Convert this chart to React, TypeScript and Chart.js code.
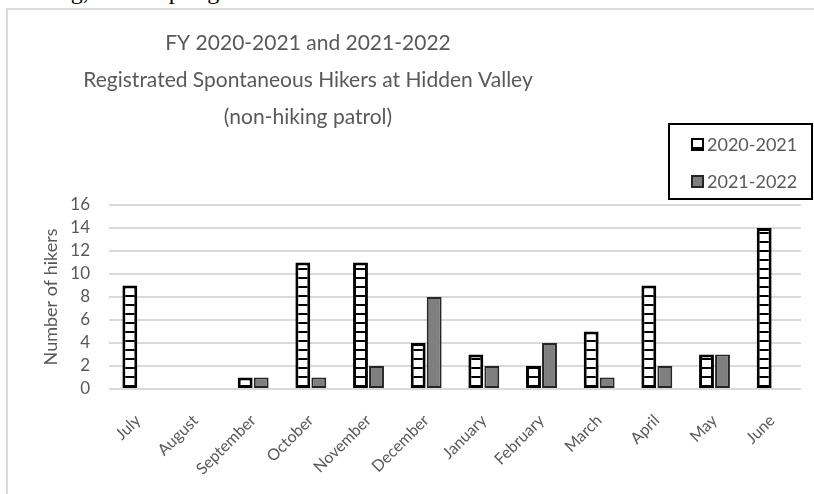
import React, { useEffect, useRef } from "react";
import { Chart, registerables } from "chart.js";

Chart.register(...registerables);

const categories = [
  "July", "August", "September", "October", "November", "December",
  "January", "February", "March", "April", "May", "June",
];
const series2020_2021: (number | null)[] = [9, null, 1, 11, 11, 4, 3, 2, 5, 9, 3, 14];
const series2021_2022: (number | null)[] = [null, null, 1, 1, 2, 8, 2, 4, 1, 2, 3, null];
const seriesLabels = ["2020-2021", "2021-2022"];
const titleLines = [
  "FY 2020-2021 and 2021-2022",
  "Registrated Spontaneous Hikers at Hidden Valley",
  "(non-hiking patrol)",
];
const yAxisTitle = "Number of hikers";
const yMin = 0;
const yMax = 16;
const yStep = 2;

const TEXT = "#595959";
const FONT = "Lato";

function makePattern(): CanvasPattern | string {
  const c = document.createElement("canvas");
  c.width = 8;
  c.height = 9;
  const ctx = c.getContext("2d");
  if (!ctx) return "#ffffff";
  ctx.fillStyle = "#ffffff";
  ctx.fillRect(0, 0, 8, 9);
  ctx.fillStyle = "#000000";
  ctx.fillRect(0, 7, 8, 2);
  return ctx.createPattern(c, "repeat") || "#ffffff";
}

const overlayPlugin = {
  id: "overlay",
  afterDraw(chart: any) {
    const ctx: CanvasRenderingContext2D = chart.ctx;
    ctx.save();
    // title
    ctx.fillStyle = TEXT;
    ctx.font = `21px ${FONT}`;
    ctx.textAlign = "center";
    ctx.textBaseline = "middle";
    titleLines.forEach((l, i) => ctx.fillText(l, 308, 43 + i * 37));

    // legend box
    const bx = 669, by = 124, bw = 143, bh = 75;
    ctx.strokeStyle = "#000000";
    ctx.lineWidth = 2;
    ctx.strokeRect(bx, by, bw, bh);
    const rows = [144, 181];
    ctx.font = `18px ${FONT}`;
    ctx.textAlign = "left";
    // marker 1
    ctx.fillStyle = "#ffffff";
    ctx.fillRect(692, rows[0] - 5, 11, 11);
    ctx.lineWidth = 2;
    ctx.strokeRect(692, rows[0] - 5, 11, 11);
    ctx.fillStyle = "#000000";
    ctx.fillRect(692, rows[0] + 3, 11, 3);
    // marker 2
    ctx.fillStyle = "#7f7f7f";
    ctx.fillRect(692, rows[1] - 5, 11, 11);
    ctx.strokeStyle = "#262626";
    ctx.strokeRect(692, rows[1] - 5, 11, 11);
    ctx.fillStyle = TEXT;
    seriesLabels.forEach((s, i) => ctx.fillText(s, 707, rows[i] + 1));
    ctx.restore();
  },
};

export default function App() {
  const ref = useRef<HTMLCanvasElement | null>(null);

  useEffect(() => {
    document.body.style.margin = "0";
    document.body.style.overflow = "hidden";
    const canvas = ref.current;
    if (!canvas) return;
    const pattern = makePattern();
    const chart = new Chart(canvas, {
      type: "bar",
      data: {
        labels: categories,
        datasets: [
          {
            label: seriesLabels[0],
            data: series2020_2021,
            backgroundColor: pattern as any,
            borderColor: "#000000",
            borderWidth: 3,
            borderSkipped: false,
            categoryPercentage: 0.555,
            barPercentage: 0.93,
          },
          {
            label: seriesLabels[1],
            data: series2021_2022,
            backgroundColor: "#7f7f7f",
            borderColor: "#262626",
            borderWidth: 2,
            borderSkipped: false,
            categoryPercentage: 0.555,
            barPercentage: 0.93,
          },
        ],
      },
      options: {
        responsive: false,
        animation: false,
        layout: { padding: { left: 0, right: 13, top: 205, bottom: 0 } },
        plugins: {
          legend: { display: false },
          title: { display: false },
          tooltip: { enabled: false },
        },
        scales: {
          x: {
            grid: { display: false },
            border: { display: false },
            ticks: {
              color: TEXT,
              font: { family: FONT, size: 16 },
              minRotation: 45,
              maxRotation: 45,
              padding: 14,
              autoSkip: false,
            },
            afterFit: (s: any) => {
              s.height = 105;
            },
          },
          y: {
            min: yMin,
            max: yMax,
            ticks: {
              stepSize: yStep,
              color: TEXT,
              font: { family: FONT, size: 17 },
              padding: 19,
              autoSkip: false,
            },
            grid: { color: "#d9d9d9", lineWidth: 2, drawTicks: false },
            border: { display: false },
            title: {
              display: true,
              text: yAxisTitle,
              color: TEXT,
              font: { family: FONT, size: 18 },
              padding: { top: 40, bottom: 0 },
            },
            afterFit: (s: any) => {
              s.width = 109;
            },
          },
        },
      },
      plugins: [overlayPlugin],
    });
    return () => chart.destroy();
  }, []);

  return (
    <div style={{ position: "relative", width: 814, height: 494, overflow: "hidden", background: "#ffffff" }}>
      <div
        style={{
          position: "absolute",
          left: 0,
          top: -21,
          whiteSpace: "pre",
          fontFamily: "'Liberation Serif', 'Times New Roman', serif",
          fontSize: 24,
          lineHeight: "24px",
          color: "#000",
          wordSpacing: 24,
          paddingLeft: 52,
        }}
      >
        ing, a spring
      </div>
      <div
        style={{
          position: "absolute",
          left: 6,
          top: 8,
          width: 900,
          height: 600,
          border: "2px solid #dcdcdc",
          boxSizing: "border-box",
          background: "#ffffff",
        }}
      />
      <canvas
        ref={ref}
        width={814}
        height={494}
        style={{ position: "absolute", left: 0, top: 0, width: 814, height: 494 }}
      />
    </div>
  );
}
